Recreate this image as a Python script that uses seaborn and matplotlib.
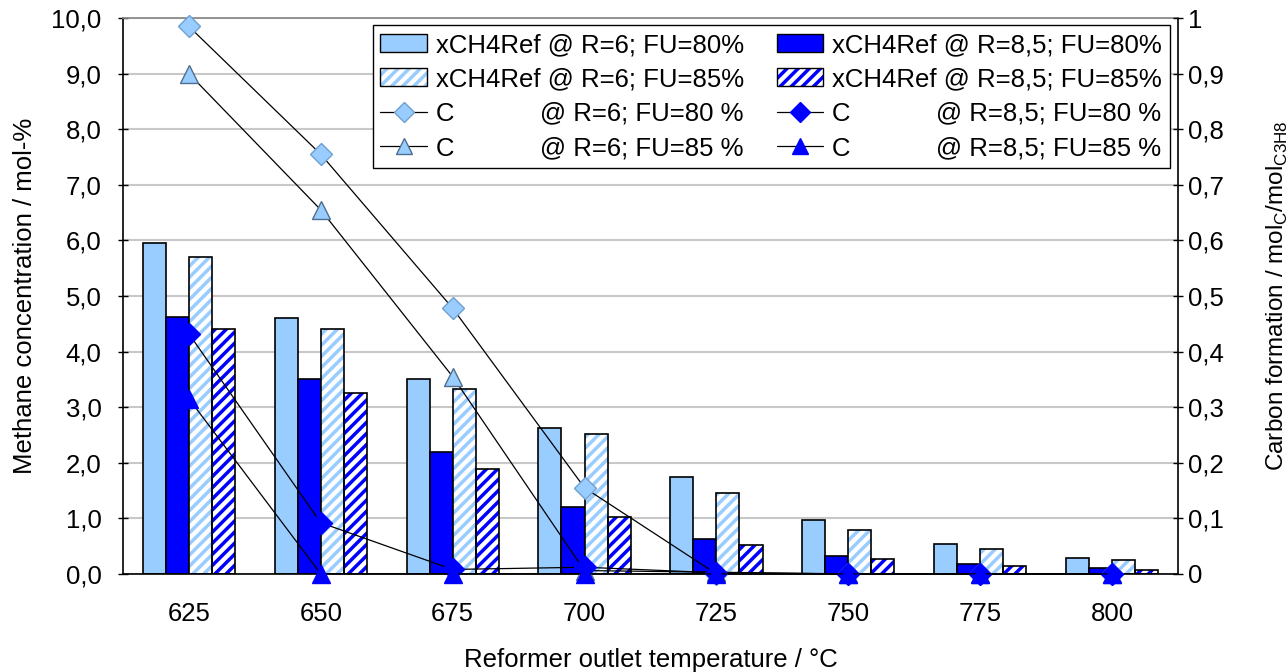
import matplotlib
matplotlib.use("Agg")
import matplotlib.pyplot as plt
from matplotlib.legend_handler import HandlerTuple
import seaborn as sns
import numpy as np
import pandas as pd

# data
temps = ['625', '650', '675', '700', '725', '750', '775', '800']

bar_names = ['xCH4Ref @ R=6; FU=80%', 'xCH4Ref @ R=6; FU=85%',
             'xCH4Ref @ R=8,5; FU=80%', 'xCH4Ref @ R=8,5; FU=85%']
# bars are drawn in this order inside each group
bar_order = [bar_names[0], bar_names[2], bar_names[1], bar_names[3]]
ch4_r6_fu80 = [5.95, 4.60, 3.50, 2.63, 1.74, 0.97, 0.54, 0.29]
ch4_r85_fu80 = [4.62, 3.50, 2.20, 1.20, 0.62, 0.32, 0.17, 0.10]
ch4_r6_fu85 = [5.70, 4.40, 3.33, 2.52, 1.46, 0.79, 0.45, 0.25]
ch4_r85_fu85 = [4.40, 3.25, 1.88, 1.02, 0.52, 0.27, 0.14, 0.07]

line_names = ['C            @ R=6; FU=80 %', 'C            @ R=6; FU=85 %',
              'C            @ R=8,5; FU=80 %', 'C            @ R=8,5; FU=85 %']
c_r6_fu80 = [0.985, 0.755, 0.478, 0.155, 0.0, 0.0, 0.0, 0.0]
c_r6_fu85 = [0.90, 0.655, 0.355, 0.006, 0.003, 0.0, 0.0, 0.0]
c_r85_fu80 = [0.432, 0.092, 0.008, 0.012, 0.002, 0.0, 0.0, 0.0]
c_r85_fu85 = [0.315, 0.0, 0.0, 0.0, 0.0, 0.0, 0.0, 0.0]

left_ticks = ['0,0', '1,0', '2,0', '3,0', '4,0', '5,0', '6,0', '7,0', '8,0', '9,0', '10,0']
right_ticks = ['0', '0,1', '0,2', '0,3', '0,4', '0,5', '0,6', '0,7', '0,8', '0,9', '1']

light = '#99CCFF'
dark = '#0000FF'
fs = 18.5

sns.set_theme(style='white')
plt.rcParams['font.family'] = ['Liberation Sans', 'DejaVu Sans']
plt.rcParams['hatch.linewidth'] = 2.5
plt.rcParams['text.color'] = 'black'
plt.rcParams['axes.labelcolor'] = 'black'
plt.rcParams['xtick.color'] = 'black'
plt.rcParams['ytick.color'] = 'black'

df = pd.DataFrame({
    'temp': temps * 4,
    'series': [bar_names[0]] * 8 + [bar_names[2]] * 8 + [bar_names[1]] * 8 + [bar_names[3]] * 8,
    'value': ch4_r6_fu80 + ch4_r85_fu80 + ch4_r6_fu85 + ch4_r85_fu85,
})

fig = plt.figure(figsize=(12.88, 6.72), dpi=100)
ax = fig.add_axes([0.0955, 0.146, 0.819, 0.827])

pal = {bar_names[0]: light, bar_names[1]: 'white', bar_names[2]: dark, bar_names[3]: 'white'}
sns.barplot(data=df, x='temp', y='value', hue='series', hue_order=bar_order,
            palette=pal, width=0.7, edgecolor='black', linewidth=1.2,
            saturation=1, ax=ax, legend=False)

# hatched bars: hatch colour comes from the edge colour, so redraw the outline on top
hatch_cols = {2: light, 3: dark}
for i, cont in enumerate(ax.containers):
    if i in hatch_cols:
        for bar in cont:
            bar.set_facecolor('white')
            bar.set_edgecolor(hatch_cols[i])
            bar.set_hatch('///')
            bar.set_linewidth(0)
            ax.add_patch(plt.Rectangle(bar.get_xy(), bar.get_width(), bar.get_height(),
                                       fill=False, ec='black', lw=1.2, zorder=bar.get_zorder() + 0.1))

ax.set_ylim(0, 10)
ax.set_xlim(-0.5, 7.5)
ax.set_yticks(np.arange(0, 11))
ax.set_yticklabels(left_ticks, fontsize=fs)
ax.set_xticks(range(8))
ax.set_xticklabels(temps, fontsize=fs)
ax.set_xticks(np.arange(-0.5, 8, 1), minor=True)
ax.tick_params(axis='x', which='major', length=0, pad=20)
ax.tick_params(axis='x', which='minor', length=7, direction='out', width=1, color='black')
ax.tick_params(axis='y', length=7, direction='inout', width=1, color='black', left=True, pad=12)
ax.yaxis.grid(True, color='#c8c8c8', lw=1.5)
ax.set_axisbelow(True)
for s in ['left', 'bottom', 'right']:
    ax.spines[s].set_color('black')
    ax.spines[s].set_linewidth(1.2)
ax.spines['top'].set_color('#888888')
ax.set_xlabel('Reformer outlet temperature / °C', fontsize=fs, labelpad=16)
ax.set_ylabel('Methane concentration / mol-%', fontsize=fs, labelpad=10)

ax2 = ax.twinx()
x = np.arange(len(temps))
line_specs = [
    (c_r6_fu80, line_names[0], 'D', light, '#6f9fcf', 11),
    (c_r6_fu85, line_names[1], '^', light, '#4f6f8f', 13),
    (c_r85_fu80, line_names[2], 'D', dark, dark, 11),
    (c_r85_fu85, line_names[3], '^', dark, dark, 13),
]
line_handles = []
for vals, name, mk, fc, ec, ms in line_specs:
    sns.lineplot(x=x, y=vals, ax=ax2, color='black', lw=0.9, marker=mk,
                 markerfacecolor=fc, markeredgecolor=ec, markersize=ms,
                 markeredgewidth=1, legend=False, clip_on=False)
    h, = ax2.plot([], [], color='black', lw=0.9, marker=mk, mfc=fc, mec=ec,
                  ms=ms - 1, mew=1, label=name)
    line_handles.append(h)

ax2.set_ylim(0, 1)
ax2.set_yticks(np.arange(0, 1.01, 0.1))
ax2.set_yticklabels(right_ticks, fontsize=fs)
ax2.tick_params(axis='y', length=7, direction='inout', width=1, color='black', right=True)
for s in ax2.spines.values():
    s.set_visible(False)
ax2.set_ylabel('Carbon formation / mol$_\\mathregular{C}$/mol$_\\mathregular{C3H8}$',
               fontsize=17.5, labelpad=30)

# legend: bar patches then lines, two columns
def bar_handle(fc, hc):
    outline = plt.Rectangle((0, 0), 1, 1, fc=fc if hc is None else 'none', ec='black', lw=1)
    if hc is None:
        return outline
    hatch = plt.Rectangle((0, 0), 1, 1, fc='white', ec=hc, hatch='///', lw=0)
    return (hatch, outline)

bar_handles = [bar_handle(light, None), bar_handle('white', light),
               bar_handle(dark, None), bar_handle('white', dark)]
handles = [bar_handles[0], bar_handles[1], line_handles[0], line_handles[1],
           bar_handles[2], bar_handles[3], line_handles[2], line_handles[3]]
labels = [bar_names[0], bar_names[1], line_names[0], line_names[1],
          bar_names[2], bar_names[3], line_names[2], line_names[3]]
leg = ax2.legend(handles=handles, labels=labels, ncol=2,
                 handler_map={tuple: HandlerTuple(ndivide=1, pad=0)},
                 loc='upper right', bbox_to_anchor=(0.9924, 0.987), fontsize=fs,
                 frameon=True, fancybox=False, edgecolor='black', framealpha=1,
                 handlelength=1.8, handletextpad=0.35, columnspacing=1.3,
                 labelspacing=0.4, borderpad=0.3, borderaxespad=0)
leg.get_frame().set_linewidth(1)

fig.savefig('out.png', dpi=100)
